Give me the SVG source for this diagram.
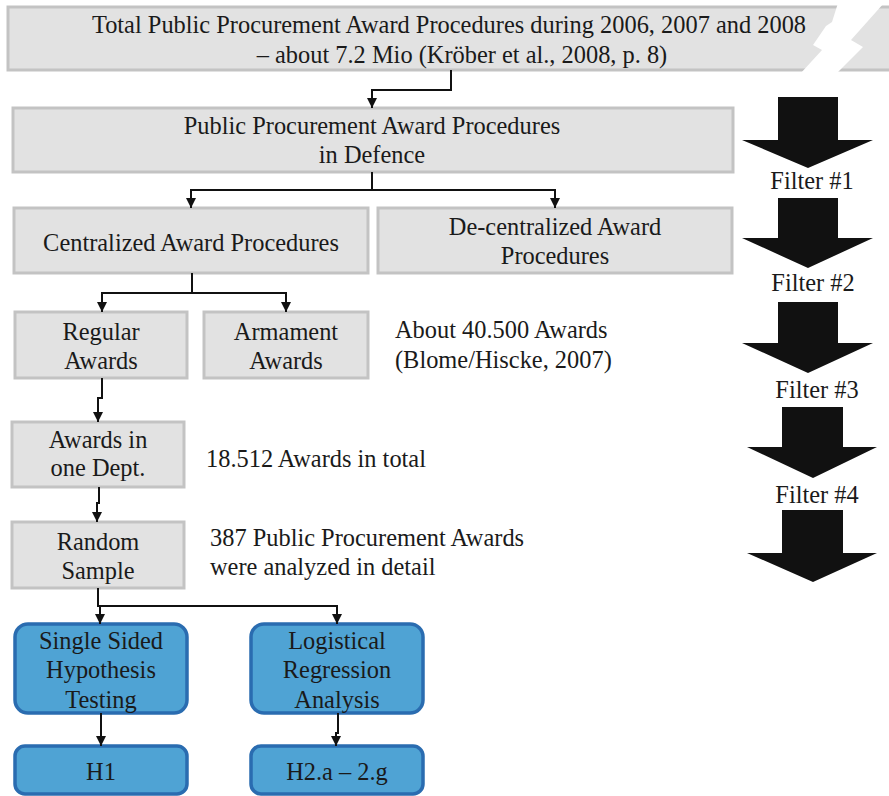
<svg xmlns="http://www.w3.org/2000/svg" width="889" height="796" viewBox="0 0 889 796">
  <defs>
    <style>
      .grey { fill: #e2e2e2; stroke: #c3c3c3; stroke-width: 3; }
      .blue { fill: #4fa3d4; stroke: #2a6cb0; stroke-width: 3.5; }
      .c { text-anchor: middle; }
      .line { fill: none; stroke: #111; stroke-width: 2; }
      .big { fill: #111; }
    </style>
    <marker id="ah" viewBox="0 0 10 10" refX="10" refY="5" markerWidth="10" markerHeight="10" markerUnits="userSpaceOnUse" orient="auto">
      <path d="M0,0 L10,5 L0,10 Z" fill="#111"/>
    </marker>
  </defs>

  <g font-family="Liberation Serif, DejaVu Serif, serif" font-size="24.4" fill="#1a1a1a">

  <!-- total procedures, torn at the right edge -->
  <g id="total">
    <rect class="grey" x="8" y="7" width="900" height="63"/>
    <polygon points="838,3 884,3 851,40 863,47 836,74 800,74 822,50 813,45 826,26 832,22" fill="#ffffff"/>
    <text class="c" x="449" y="33">Total Public Procurement Award Procedures during 2006, 2007 and 2008</text>
    <text class="c" x="462" y="63">– about 7.2 Mio (Kröber et al., 2008, p. 8)</text>
  </g>

  <g id="defence">
    <rect class="grey" x="13" y="108" width="720" height="64"/>
    <text class="c" x="372" y="134">Public Procurement Award Procedures</text>
    <text class="c" x="372" y="163">in Defence</text>
  </g>

  <g id="centralized">
    <rect class="grey" x="14" y="208" width="354" height="65"/>
    <text class="c" x="191" y="251">Centralized Award Procedures</text>
  </g>

  <g id="decentralized">
    <rect class="grey" x="378" y="208" width="354" height="65"/>
    <text class="c" x="555" y="235">De-centralized Award</text>
    <text class="c" x="555" y="264">Procedures</text>
  </g>

  <g id="regular">
    <rect class="grey" x="15" y="312" width="172" height="66"/>
    <text class="c" x="101" y="340">Regular</text>
    <text class="c" x="101" y="369">Awards</text>
  </g>

  <g id="armament">
    <rect class="grey" x="204" y="312" width="164" height="66"/>
    <text class="c" x="286" y="340">Armament</text>
    <text class="c" x="286" y="369">Awards</text>
  </g>

  <g id="dept">
    <rect class="grey" x="12" y="422" width="172" height="65"/>
    <text class="c" x="98" y="448">Awards in</text>
    <text class="c" x="98" y="476">one Dept.</text>
  </g>

  <g id="sample">
    <rect class="grey" x="12" y="522" width="172" height="66"/>
    <text class="c" x="98" y="550">Random</text>
    <text class="c" x="98" y="579">Sample</text>
  </g>

  <g id="hypothesis">
    <rect class="blue" x="15" y="624" width="172" height="89" rx="13"/>
    <text class="c" x="101" y="649">Single Sided</text>
    <text class="c" x="101" y="678">Hypothesis</text>
    <text class="c" x="101" y="708">Testing</text>
  </g>

  <g id="regression">
    <rect class="blue" x="251" y="624" width="172" height="89" rx="13"/>
    <text class="c" x="337" y="649">Logistical</text>
    <text class="c" x="337" y="678">Regression</text>
    <text class="c" x="337" y="708">Analysis</text>
  </g>

  <g id="h1">
    <rect class="blue" x="15" y="746" width="172" height="48" rx="10"/>
    <text class="c" x="101" y="780">H1</text>
  </g>

  <g id="h2">
    <rect class="blue" x="251" y="746" width="172" height="48" rx="10"/>
    <text class="c" x="337" y="780">H2.a – 2.g</text>
  </g>

  <!-- figures beside the chain -->
  <g id="notes">
    <text x="395" y="338">About 40.500 Awards</text>
    <text x="395" y="368">(Blome/Hiscke, 2007)</text>
    <text x="206" y="467">18.512 Awards in total</text>
    <text x="210" y="546">387 Public Procurement Awards</text>
    <text x="210" y="575">were analyzed in detail</text>
  </g>

  <!-- filter stages -->
  <g id="filters">
    <polygon class="big" points="778,97 838,97 838,140 873,140 808,168 742,140 778,140"/>
    <text class="c" x="812" y="189">Filter #1</text>
    <polygon class="big" points="778,198 838,198 838,238 873,238 808,268 742,238 778,238"/>
    <text class="c" x="813" y="291">Filter #2</text>
    <polygon class="big" points="778,302 838,302 838,343 873,343 808,373 742,343 778,343"/>
    <text class="c" x="817" y="398">Filter #3</text>
    <polygon class="big" points="782,407 843,407 843,447 877,447 813,478 747,447 782,447"/>
    <text class="c" x="817" y="503">Filter #4</text>
    <polygon class="big" points="782,510 843,510 843,553 877,553 813,582 747,553 782,553"/>
  </g>

  </g>

  <g id="connectors">
    <path class="line" d="M451,70 V90 H372 V108" marker-end="url(#ah)"/>
    <path class="line" d="M372,172 V190 H191 V208" marker-end="url(#ah)"/>
    <path class="line" d="M372,190 H555 V208" marker-end="url(#ah)"/>
    <path class="line" d="M192,273 V293 H102 V312" marker-end="url(#ah)"/>
    <path class="line" d="M192,293 H286 V312" marker-end="url(#ah)"/>
    <path class="line" d="M102,378 V398 H98 V422" marker-end="url(#ah)"/>
    <path class="line" d="M99,487 V503 H97 V522" marker-end="url(#ah)"/>
    <path class="line" d="M98,588 V606 H100 V624" marker-end="url(#ah)"/>
    <path class="line" d="M98,606 H337 V624" marker-end="url(#ah)"/>
    <path class="line" d="M101,713 V746" marker-end="url(#ah)"/>
    <path class="line" d="M338,713 V733 H336 V746" marker-end="url(#ah)"/>
  </g>
</svg>
